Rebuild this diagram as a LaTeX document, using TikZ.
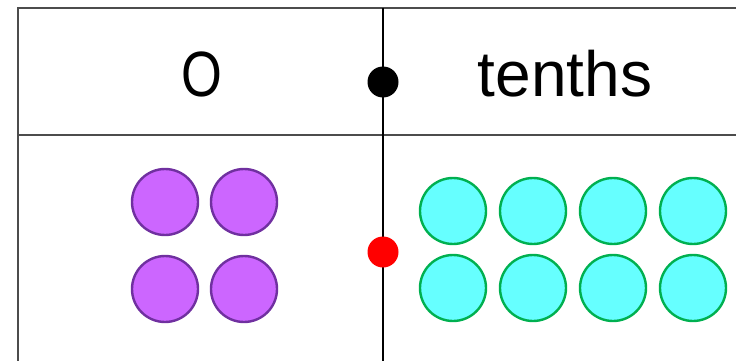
\documentclass[tikz,border=0pt]{standalone}
\usepackage{fontspec}
\setmainfont{Liberation Sans}
\definecolor{onefill}{RGB}{204,102,255}
\definecolor{oneline}{RGB}{112,48,160}
\definecolor{tenthfill}{RGB}{102,255,255}
\definecolor{tenthline}{RGB}{0,176,80}
\begin{document}
\begin{tikzpicture}[x=1pt,y=-1pt,
  gridline/.style={draw=black!70,line width=2.4pt},
  divider/.style={draw=black,line width=1.4pt},
  onecounter/.style={circle,draw=oneline,fill=onefill,line width=2.4pt,minimum size=66pt,inner sep=0pt},
  tenthcounter/.style={circle,draw=tenthline,fill=tenthfill,line width=2.4pt,minimum size=66pt,inner sep=0pt},
  point/.style={circle,fill=#1,minimum size=31pt,inner sep=0pt},
  heading/.style={font=\fontsize{64}{64}\selectfont,inner sep=0pt}]
\useasboundingbox (0,0) rectangle (736,361);
% place value chart lines
\coordinate (tl) at (18,8);
\coordinate (tr) at (736,8);
\coordinate (hl) at (18,135);
\coordinate (hr) at (736,135);
\coordinate (bl) at (18,361);
\coordinate (dt) at (383,8);
\coordinate (db) at (383,361);
\draw[gridline] (bl) -- (tl) -- (tr);
\draw[gridline] (hl) -- (hr);
\draw[divider] (dt) -- (db);
% headings
\node[heading,xscale=0.82] (ones) at (202,74) {O};
\node[heading] (tenths) at (565,74) {tenths};
% decimal points
\node[point=black] (dp1) at (383,82) {};
\node[point=red] (dp2) at (383,252) {};
% ones counters
\foreach \x/\y [count=\i] in {165/202,244/202,165/289,244/289}
  \node[onecounter] (o\i) at (\x,\y) {};
% tenths counters
\foreach \x [count=\i] in {453,533,613,693}{
  \node[tenthcounter] (ta\i) at (\x,211) {};
  \node[tenthcounter] (tb\i) at (\x,288) {};
}
\end{tikzpicture}
\end{document}
